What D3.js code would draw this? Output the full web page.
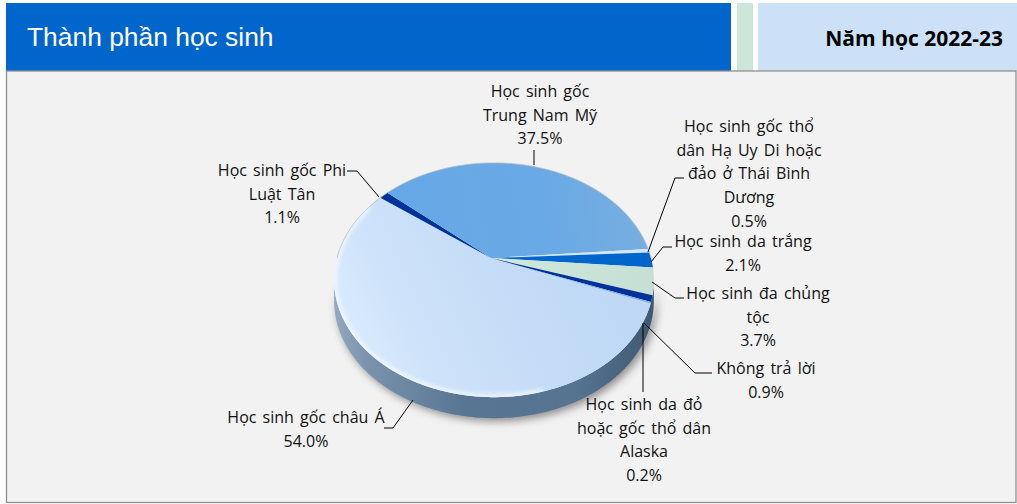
<!DOCTYPE html>
<html>
<head>
<meta charset="utf-8">
<script src="https://cdn.jsdelivr.net/npm/d3@7"></script>
<style>
html, body { margin: 0; padding: 0; background: #fff; overflow: hidden; }
svg { display: block; }
text { font-family: "Open Sans", sans-serif; }
</style>
</head>
<body>
<script>
var categories = [
	["Học sinh gốc châu Á"],
	["Học sinh gốc Phi", "Luật Tân"],
	["Học sinh gốc", "Trung Nam Mỹ"],
	["Học sinh gốc thổ", "dân Hạ Uy Di hoặc", "đảo ở Thái Bình", "Dương"],
	["Học sinh da trắng"],
	["Học sinh đa chủng", "tộc"],
	["Không trả lời"],
	["Học sinh da đỏ", "hoặc gốc thổ dân", "Alaska"]
];
var values = [54.0, 1.1, 37.5, 0.5, 2.1, 3.7, 0.9, 0.2];
var titleText = "Thành phần học sinh";
var yearText = "Năm học 2022-23";

// label centre, first line baseline and leader line for each slice
var labelPos = [
	{x: 306, y: 423, leader: [[413, 400], [393, 428], [384, 428]]},
	{x: 282, y: 176, leader: [[379, 197], [357, 171], [347, 171]]},
	{x: 540, y: 97, leader: [[534, 150], [534, 165]]},
	{x: 749, y: 132, leader: [[648, 252], [675, 178], [684, 178]]},
	{x: 743, y: 247, leader: [[651, 262], [663, 247], [672, 247]]},
	{x: 758, y: 299, leader: [[652, 282], [675, 298], [684, 298]]},
	{x: 766, y: 374, leader: [[644, 323], [695, 373], [712, 373]]},
	{x: 644, y: 410, leader: [[643, 323], [643, 392]]}
];
var sliceFill = ["url(#asia)", "#003399", "url(#latin)", "#d3e8f6", "#0066cc", "url(#multi)", "#003399", "#7fb2e5"];

var width = 1017, height = 504;
var cx = 494, cy = 258, apexX = 491, rimA = 157, rimB = 113, tilt = -0.188, depth = 21;

// plan-view angle (clockwise from top) to the tilted disc on screen
function project(t) {
	var px = Math.sin(t), py = -Math.cos(t), w = 1 + tilt * py;
	return [cx + rimA * px / w, cy + rimB * py / w];
}
function rad(deg) { return deg * Math.PI / 180; }
function rim(a0, a1) {
	var n = Math.max(2, Math.ceil((a1 - a0) / rad(1)));
	return d3.range(n + 1).map(function(i) { return project(a0 + (a1 - a0) * i / n); });
}

var svg = d3.select("body").append("svg")
	.attr("width", width)
	.attr("height", height);

var defs = svg.append("defs");

function gradient(id, x1, y1, x2, y2, stops) {
	var g = defs.append("linearGradient").attr("id", id)
		.attr("gradientUnits", "userSpaceOnUse")
		.attr("x1", x1).attr("y1", y1).attr("x2", x2).attr("y2", y2);
	stops.forEach(function(s) { g.append("stop").attr("offset", s[0]).attr("stop-color", s[1]); });
}
gradient("asia", 350, 370, 620, 240, [[0, "#dcedfe"], [0.22, "#cfe3fa"], [0.6, "#c4dcf7"], [1, "#bdd7f5"]]);
gradient("latin", 400, 240, 640, 200, [[0, "#66a8e6"], [0.6, "#69a9e5"], [1, "#77aee0"]]);
gradient("multi", 500, 270, 655, 290, [[0, "#cfe8dc"], [1, "#c6dfd4"]]);
gradient("wall", 335, 0, 655, 0, [[0, "#94a8be"], [0.1, "#7a93ad"], [0.4, "#587693"], [0.75, "#567491"], [1, "#3f5872"]]);

defs.append("filter").attr("id", "soft")
	.attr("x", "-20%").attr("y", "-20%").attr("width", "140%").attr("height", "140%")
	.append("feGaussianBlur").attr("stdDeviation", 4);
defs.append("filter").attr("id", "glow")
	.attr("x", "-20%").attr("y", "-20%").attr("width", "140%").attr("height", "140%")
	.append("feGaussianBlur").attr("stdDeviation", 2.5);
defs.append("clipPath").attr("id", "disc")
	.append("path").attr("d", d3.line()(rim(0, 2 * Math.PI)) + "Z");

// header blocks
svg.append("rect").attr("x", 6).attr("y", 3).attr("width", 725).attr("height", 68).attr("fill", "#0066cc");
svg.append("rect").attr("x", 737).attr("y", 3).attr("width", 16).attr("height", 68).attr("fill", "#cde6da");
svg.append("rect").attr("x", 758).attr("y", 3).attr("width", 259).attr("height", 68).attr("fill", "#cce1f7");

// panel
svg.append("rect").attr("x", 6.5).attr("y", 71).attr("width", 1009.5).attr("height", 431.5)
	.attr("fill", "#f2f2f2").attr("stroke", "#8f8f8f").attr("stroke-width", 1.3);

svg.append("text").attr("x", 27).attr("y", 46)
	.attr("fill", "#fff")
	.style("font-family", "'Liberation Sans', Arial, sans-serif")
	.style("font-size", "26.4px")
	.text(titleText);
svg.append("text").attr("x", 1003).attr("y", 46)
	.attr("text-anchor", "end")
	.attr("fill", "#000")
	.style("font-size", "21px")
	.style("font-weight", 700)
	.text(yearText);

var line = d3.line();
var pie = d3.pie().sort(null).value(function(d) { return d; })
	.startAngle(rad(112)).endAngle(rad(112 + 360));
var arcs = pie(values);

// side wall of the disc, from the right extreme round the bottom to the left one
var wallTop = rim(rad(100.8), rad(259.2));
var wallPts = wallTop.concat(wallTop.slice().reverse().map(function(p) { return [p[0], p[1] + depth]; }));

var chart = svg.append("g");

chart.append("path")
	.attr("d", line(wallPts.map(function(p) { return [p[0] + 3, p[1] + 3]; })) + "Z")
	.attr("fill", "#444")
	.attr("opacity", 0.6)
	.attr("filter", "url(#soft)");

chart.append("path")
	.attr("d", line(wallPts) + "Z")
	.attr("fill", "url(#wall)");

chart.selectAll("path.slice")
	.data(arcs)
	.enter().append("path")
	.attr("class", "slice")
	.attr("d", function(d) { return line([[apexX, cy]].concat(rim(d.startAngle, d.endAngle))) + "Z"; })
	.attr("fill", function(d, i) { return sliceFill[i]; });

// bevel highlight along the lower left of the rim
chart.append("g").attr("clip-path", "url(#disc)")
	.append("path")
	.attr("d", line(rim(rad(165), rad(300))))
	.attr("fill", "none")
	.attr("stroke", "#fff")
	.attr("stroke-width", 5)
	.attr("opacity", 0.8)
	.attr("filter", "url(#glow)");

// thin grey edge on the back of the rim
chart.append("path")
	.attr("d", line(rim(rad(270), rad(450))))
	.attr("fill", "none")
	.attr("stroke", "#b5bcc4")
	.attr("stroke-width", 0.8);

// leader lines
chart.selectAll("path.leader")
	.data(labelPos)
	.enter().append("path")
	.attr("class", "leader")
	.attr("d", function(d) { return line(d.leader); })
	.attr("fill", "none")
	.attr("stroke", "#000")
	.attr("stroke-width", 1);

// data labels
var fmt = d3.format(".1f");
var labels = chart.selectAll("text.lab")
	.data(categories)
	.enter().append("text")
	.attr("class", "lab")
	.attr("text-anchor", "middle")
	.attr("fill", "#111")
	.style("font-size", "16px")
	.style("word-spacing", "2px");

labels.selectAll("tspan")
	.data(function(d, i) { return d.concat([fmt(values[i]) + "%"]).map(function(t, j) { return {t: t, j: j, i: i}; }); })
	.enter().append("tspan")
	.attr("x", function(d) { return labelPos[d.i].x; })
	.attr("y", function(d) { return labelPos[d.i].y + d.j * 23.7; })
	.text(function(d) { return d.t; });
</script>
</body>
</html>
